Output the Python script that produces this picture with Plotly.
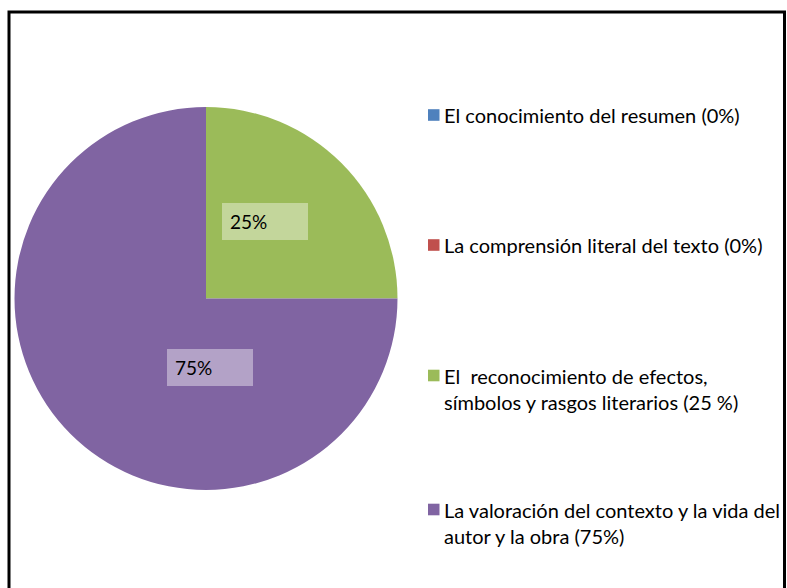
import plotly.graph_objects as go

# ---- data ----
categories = [
    "El conocimiento del resumen (0%)",
    "La comprensión literal del texto (0%)",
    "El  reconocimiento de efectos,\nsímbolos y rasgos literarios (25 %)",
    "La valoración del contexto y la vida del\nautor y la obra (75%)",
]
values = [0, 0, 25, 75]
colors = ["#4F81BD", "#C0504D", "#9BBB59", "#8064A2"]

W, H = 787, 588
FONT = "Lato"

def px_x(x):
    return x / W

def px_y(y):
    return 1 - y / H

fig = go.Figure()
fig.add_trace(go.Pie(
    labels=[c.replace("\n", " ") for c in categories],
    values=values,
    marker=dict(colors=colors, line=dict(width=0)),
    sort=False,
    direction="clockwise",
    rotation=0,
    textinfo="none",
    showlegend=False,
    domain=dict(x=[px_x(14.5), px_x(397.5)], y=[px_y(490), px_y(107)]),
))

total = sum(values)
# percentage data labels (box positions in pixels)
label_boxes = {2: (222, 203), 3: (167, 349)}
for i, (bx, by) in label_boxes.items():
    fig.add_annotation(
        x=px_x(bx), y=px_y(by), xref="paper", yref="paper",
        xanchor="left", yanchor="top",
        text=f"{values[i] / total * 100:.0f}%",
        showarrow=False, align="left", valign="middle",
        width=70, height=21, borderpad=8, borderwidth=0,
        bgcolor="rgba(255,255,255,0.4)",
        font=dict(family=FONT, size=19, color="#000000"),
    )

# legend
legend_rows = [115, 245, 375.5, 509.5]
for cat, col, yc in zip(categories, colors, legend_rows):
    fig.add_shape(type="rect", xref="paper", yref="paper",
                  x0=px_x(428), x1=px_x(439.5), y0=px_y(yc - 5.8), y1=px_y(yc + 5.8),
                  fillcolor=col, line=dict(width=0))
    txt = cat.replace("  ", "\u00a0 ").replace("\n", "<br>")
    fig.add_annotation(
        x=px_x(442), y=px_y(yc - 14), xref="paper", yref="paper",
        xanchor="left", yanchor="top", align="left",
        text=txt, showarrow=False,
        font=dict(family=FONT, size=20, color="#000000"),
    )

# chart frame (left, top, right edges; bottom lies below the visible area)
fig.add_shape(type="path", xref="paper", yref="paper",
              path=f"M {px_x(9)},{px_y(600)} L {px_x(9)},{px_y(12)} "
                   f"L {px_x(784.5)},{px_y(12)} L {px_x(784.5)},{px_y(600)}",
              line=dict(color="#000000", width=3))

fig.update_layout(
    width=W, height=H,
    margin=dict(l=0, r=0, t=0, b=0),
    paper_bgcolor="#FFFFFF", plot_bgcolor="#FFFFFF",
    font=dict(family=FONT),
)

fig.write_html("out.html",
               config={"displayModeBar": False},
               post_script="document.body.style.margin='0px';"
                           "document.body.style.overflow='hidden';"
                           "document.documentElement.style.overflow='hidden';")
